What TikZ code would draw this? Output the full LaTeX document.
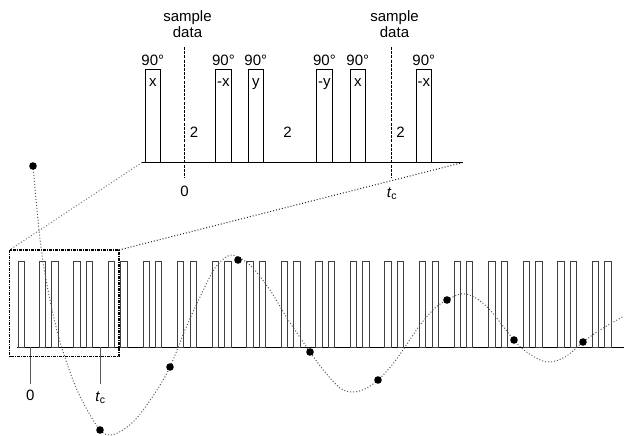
\documentclass[tikz,border=0pt]{standalone}
\usepackage{fontspec}
\setmainfont{Liberation Sans}
\begin{document}
\begin{tikzpicture}[x=1pt,y=-1pt,
  lbl/.style={font=\fontsize{15}{13.5}\selectfont, inner sep=0pt, anchor=base},
  toppulse/.style={draw=black, line width=0.9pt},
  botpulse/.style={draw=black!75, line width=0.9pt},
  baseline/.style={draw=black, line width=1pt},
  sampleline/.style={draw=black, line width=1.6pt, dash pattern=on 3pt off 1.2pt},
  zoomline/.style={draw=black!55, line width=1pt, dotted},
  zoomline2/.style={draw=black!85, line width=1pt, dotted},
  zoombox/.style={draw=black, line width=1.4pt, dash pattern=on 3pt off 1pt on 1pt off 1pt},
  tick/.style={draw=black!65, line width=1pt},
  curve/.style={draw=black!65, line width=1pt, dotted},
  dot/.style={circle, fill=black, inner sep=0pt, minimum size=7.6pt}]
\useasboundingbox (0,0) rectangle (624,436);

% ---------- top (expanded) sequence ----------
\coordinate (tbL) at (142,162.5);
\coordinate (tbR) at (463,162.5);
\draw[baseline] (tbL) -- (tbR);
\foreach \xx/\ph/\nm in {145/x/a, 215.7/-x/b, 248/y/c, 316.7/-y/d, 350/x/e, 416/-x/f} {
  \draw[toppulse] (\xx,162.5) rectangle (\xx+15.5,69);
  \node[lbl] (deg\nm) at (\xx+7.75,65.5) {90°};
  \node[lbl] (ph\nm) at (\xx+7.75,86) {\ph};
}
\draw[sampleline] (184.5,47) -- (184.5,178);
\draw[sampleline] (391.5,47) -- (391.5,178);
\node[lbl, align=center] (sd1) at (187.5,38) {sample\\[1.5pt]data};
\node[lbl, align=center] (sd2) at (394.5,38) {sample\\[1.5pt]data};
\node[lbl] (two1) at (194,137.5) {2};
\node[lbl] (two2) at (287.5,137.5) {2};
\node[lbl] (two3) at (400.5,137.5) {2};
\node[lbl] (zero1) at (184.5,196) {0};
\node[lbl] (tc1) at (392,197) {\textit{t}\textsubscript{c}};

% ---------- bottom sequence ----------
\coordinate (bbL) at (17.3,347.3);
\coordinate (bbR) at (624,347.3);
\draw[baseline] (bbL) -- (bbR);
\draw[botpulse] (18.3,347.3) rectangle (24.8,261.7);
\foreach \k in {0,...,16} {
  \pgfmathsetmacro{\xa}{39.3+34.56*\k}
  \draw[botpulse] (\xa,347.3) rectangle (\xa+6.4,261.7);
  \draw[botpulse] (\xa+12.5,347.3) rectangle (\xa+18.9,261.7);
}
\coordinate (t0a) at (30.3,347.3);
\coordinate (t0b) at (30.3,384);
\coordinate (tca) at (100,347.3);
\coordinate (tcb) at (100,384);
\draw[tick] (t0a) -- (t0b);
\draw[tick] (tca) -- (tcb);
\node[lbl] (zero2) at (30.3,400.5) {0};
\node[lbl] (tc2) at (100.5,401) {\textit{t}\textsubscript{c}};

% zoom box and connecting lines
\coordinate (zbNW) at (9.5,250);
\coordinate (zbSE) at (119,356.7);
\coordinate (zbNE) at (119,250);
\draw[zoombox] (zbNW) rectangle (zbSE);
\draw[zoomline] (tbL) -- (zbNW);
\draw[zoomline2] (tbR) -- (zbNE);

% ---------- damped signal ----------
\draw[curve] plot[smooth, tension=0.55] coordinates {
 (33,166) (37,210) (42,255) (50,300) (61,345) (78,392) (100,430) (115,434)
 (135,420) (155,393) (170,367) (185,330) (200,297) (215,268) (228,256)
 (238,257) (252,267) (270,290) (287,318) (310,352) (325,372) (340,388)
 (352,392) (365,389) (378,380) (392,365) (405,347) (420,325) (435,308)
 (447,300) (461,294) (474,297) (490,310) (514,340) (528,353) (547,362)
 (565,357) (583,342) (600,330) (624,316)};
\foreach \px/\py/\nm in {33/166/1, 100/430/2, 170/367/3, 238/260/4, 310/352/5,
                         378/380/6, 447/300/7, 514/340/8, 583/342/9} {
  \node[dot] (dot\nm) at (\px,\py) {};
}
\end{tikzpicture}
\end{document}
